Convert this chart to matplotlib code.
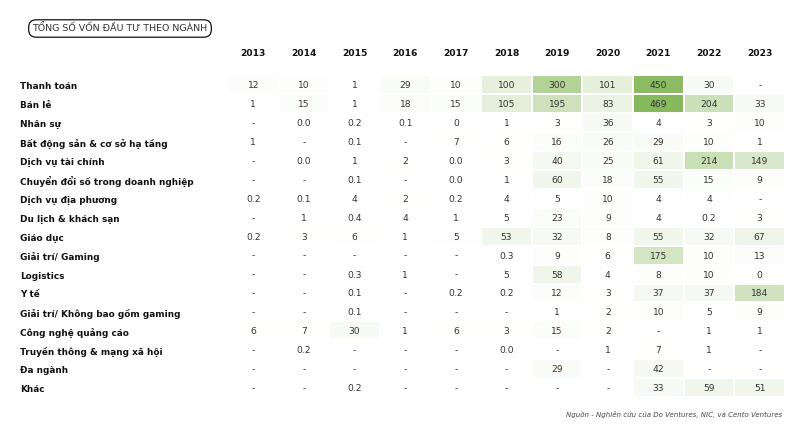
import matplotlib
matplotlib.use("Agg")
import matplotlib.pyplot as plt
import matplotlib.transforms as mtransforms
from matplotlib.colors import LinearSegmentedColormap
import numpy as np

plt.rcParams['font.family'] = ['DejaVu Sans']

sectors = [
    "Thanh toán", "Bán lẻ", "Nhân sự", "Bất động sản & cơ sở hạ tầng",
    "Dịch vụ tài chính", "Chuyển đổi số trong doanh nghiệp",
    "Dịch vụ địa phương", "Du lịch & khách sạn", "Giáo dục",
    "Giải trí/ Gaming", "Logistics", "Y tế",
    "Giải trí/ Không bao gồm gaming", "Công nghệ quảng cáo",
    "Truyền thông & mạng xã hội", "Đa ngành", "Khác",
]
years = ["2013", "2014", "2015", "2016", "2017", "2018",
         "2019", "2020", "2021", "2022", "2023"]

# one list per year, "-" = no data
v2013 = ["12", "1", "-", "1", "-", "-", "0.2", "-", "0.2", "-", "-", "-", "-", "6", "-", "-", "-"]
v2014 = ["10", "15", "0.0", "-", "0.0", "-", "0.1", "1", "3", "-", "-", "-", "-", "7", "0.2", "-", "-"]
v2015 = ["1", "1", "0.2", "0.1", "1", "0.1", "4", "0.4", "6", "-", "0.3", "0.1", "0.1", "30", "-", "-", "0.2"]
v2016 = ["29", "18", "0.1", "-", "2", "-", "2", "4", "1", "-", "1", "-", "-", "1", "-", "-", "-"]
v2017 = ["10", "15", "0", "7", "0.0", "0.0", "0.2", "1", "5", "-", "-", "0.2", "-", "6", "-", "-", "-"]
v2018 = ["100", "105", "1", "6", "3", "1", "4", "5", "53", "0.3", "5", "0.2", "-", "3", "0.0", "-", "-"]
v2019 = ["300", "195", "3", "16", "40", "60", "5", "23", "32", "9", "58", "12", "1", "15", "-", "29", "-"]
v2020 = ["101", "83", "36", "26", "25", "18", "10", "9", "8", "6", "4", "3", "2", "2", "1", "-", "-"]
v2021 = ["450", "469", "4", "29", "61", "55", "4", "4", "55", "175", "8", "37", "10", "-", "7", "42", "33"]
v2022 = ["30", "204", "3", "10", "214", "15", "4", "0.2", "32", "10", "10", "37", "5", "1", "1", "-", "59"]
v2023 = ["-", "33", "10", "1", "149", "9", "-", "3", "67", "13", "0", "184", "9", "1", "-", "-", "51"]

labels = np.array([v2013, v2014, v2015, v2016, v2017, v2018,
                   v2019, v2020, v2021, v2022, v2023]).T
values = np.array([[np.nan if s == "-" else float(s) for s in row] for row in labels])

W, H = 810, 434
fig = plt.figure(figsize=(W / 100, H / 100), dpi=100)

# grid area in pixels
x0, x1 = 228, 785
y0, y1 = 75.5, 397
ax = fig.add_axes([x0 / W, 1 - y1 / H, (x1 - x0) / W, (y1 - y0) / H])

cmap = LinearSegmentedColormap.from_list("grn", ["#ffffff", "#88b85e"])
cmap.set_bad("white")
masked = np.ma.masked_invalid(values)
ax.pcolormesh(np.arange(len(years) + 1) - 0.5, np.arange(len(sectors) + 1) - 0.5,
              masked, cmap=cmap, vmin=0, vmax=470,
              edgecolors="white", linewidth=1.2)

for i in range(len(sectors)):
    for j in range(len(years)):
        ax.text(j, i + 0.05, labels[i, j], ha="center", va="center",
                fontsize=6.6, color="#333333")

ax.set_xlim(-0.5, len(years) - 0.5)
ax.set_ylim(len(sectors) - 0.5, -0.5)
for s in ax.spines.values():
    s.set_visible(False)

ax.xaxis.tick_top()
ax.set_xticks(range(len(years)))
ax.set_xticklabels(years, fontsize=6.6, fontweight="bold", color="#111111")
ax.tick_params(axis="x", length=0, pad=(y0 - 54) * 0.72 - 3)
ax.set_yticks([])

# row labels, left aligned at x = 20 px
trans = mtransforms.blended_transform_factory(fig.transFigure, ax.transData)
for i, name in enumerate(sectors):
    ax.text(20 / W, i + 0.05, name, transform=trans, ha="left", va="center_baseline",
            fontsize=6.4, fontweight="bold", color="#111111")

fig.text(120 / W, 1 - 28.5 / H, "TỔNG SỐ VỐN ĐẦU TƯ THEO NGÀNH", ha="center", va="center",
         fontsize=6.8, color="#333333",
         bbox=dict(boxstyle="round,pad=0.4,rounding_size=0.8", fc="white", ec="#111111", lw=0.9))

fig.text(782 / W, 1 - 415 / H, "Nguồn - Nghiên cứu của Do Ventures, NIC, và Cento Ventures",
         ha="right", va="center", fontsize=5, style="italic", color="#444444")

fig.savefig("out.png", dpi=100, facecolor="white")
